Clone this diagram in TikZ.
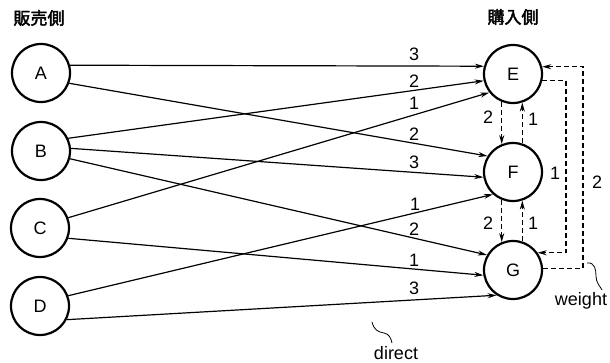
\documentclass[tikz,border=0pt]{standalone}
\usepackage{fontspec}
\setmainfont{Liberation Sans}
\newfontfamily\cjk[FakeBold=2.5]{Noto Sans CJK JP}
\usetikzlibrary{arrows.meta}
\begin{document}
\begin{tikzpicture}[x=1pt,y=-1pt,
  vtx/.style={circle,draw,line width=2.2pt,minimum size=58pt,inner sep=0pt,font=\fontsize{18}{18}\selectfont},
  ln/.style={line width=1.2pt,-{Stealth[length=9pt,width=5pt]}},
  dl/.style={ln,dash pattern=on 5pt off 3pt},
  num/.style={font=\fontsize{18}{18}\selectfont,inner sep=0pt},
  hdr/.style={font=\cjk\fontsize{17}{17}\selectfont,inner sep=0pt},
  sq/.style={line width=0.8pt}]
\useasboundingbox (0,0) rectangle (610,363);
\node[hdr] (hs) at (39,18) {販売側};
\node[hdr] (hb) at (513,17) {購入側};
\node[vtx] (A) at (41,73) {A};
\node[vtx] (B) at (41,151) {B};
\node[vtx] (C) at (40,228) {C};
\node[vtx] (D) at (40,306) {D};
\node[vtx] (E) at (513,74) {E};
\node[vtx] (F) at (513,172) {F};
\node[vtx] (G) at (513,270) {G};
% direct edges
\draw[ln] (A.15) -- (E.165);
\draw[ln] (A.-20) -- (F.148);
\draw[ln] (B.25) -- (E.193);
\draw[ln] (B.5) -- (F.190);
\draw[ln] (B.-15) -- (G.150);
\draw[ln] (C.20) -- (E.218);
\draw[ln] (C.-20) -- (G.190);
\draw[ln] (D.20) -- (F.228);
\draw[ln] (D.-27) -- (G.237);
\node[num] (l1) at (414,54) {3};
\node[num] (l2) at (414,81) {2};
\node[num] (l3) at (414,103) {1};
\node[num] (l4) at (414,134) {2};
\node[num] (l5) at (414,162) {3};
\node[num] (l6) at (415,204) {1};
\node[num] (l7) at (414,229) {2};
\node[num] (l8) at (414,260) {1};
\node[num] (l9) at (414,288) {3};
% weight edges
\draw[dl] (E.248) -- (F.112);
\draw[dl] (F.72) -- (E.-72);
\draw[dl] (F.248) -- (G.112);
\draw[dl] (G.72) -- (F.-72);
\node[num] (w1) at (488,117) {2};
\node[num] (w2) at (533,119) {1};
\node[num] (w3) at (488,223) {2};
\node[num] (w4) at (533,223) {1};
\coordinate (ix) at (566,0);
\coordinate (ox) at (583,0);
\draw[dl] (E.-12) -- (E.-12 -| ix) -- (G.35 -| ix) -- (G.35);
\draw[dl] (G.3) -- (G.3 -| ox) -- (E.14 -| ox) -- (E.14);
\node[num] (w5) at (555,173) {1};
\node[num] (w6) at (597,182) {2};
% annotations
\node[num] (wt) at (581,301) {weight};
\node[num] (dt) at (396,353) {direct};
\coordinate (ws) at (587,263);
\coordinate (ds) at (372,322);
\draw[sq] (ws) .. controls (595,262) and (596,270) .. (596,276) .. controls (596,283) and (600,286) .. (602,290);
\draw[sq] (ds) .. controls (374,330) and (378,332) .. (384,333) .. controls (389,334) and (391,338) .. (392,343);
\end{tikzpicture}
\end{document}
